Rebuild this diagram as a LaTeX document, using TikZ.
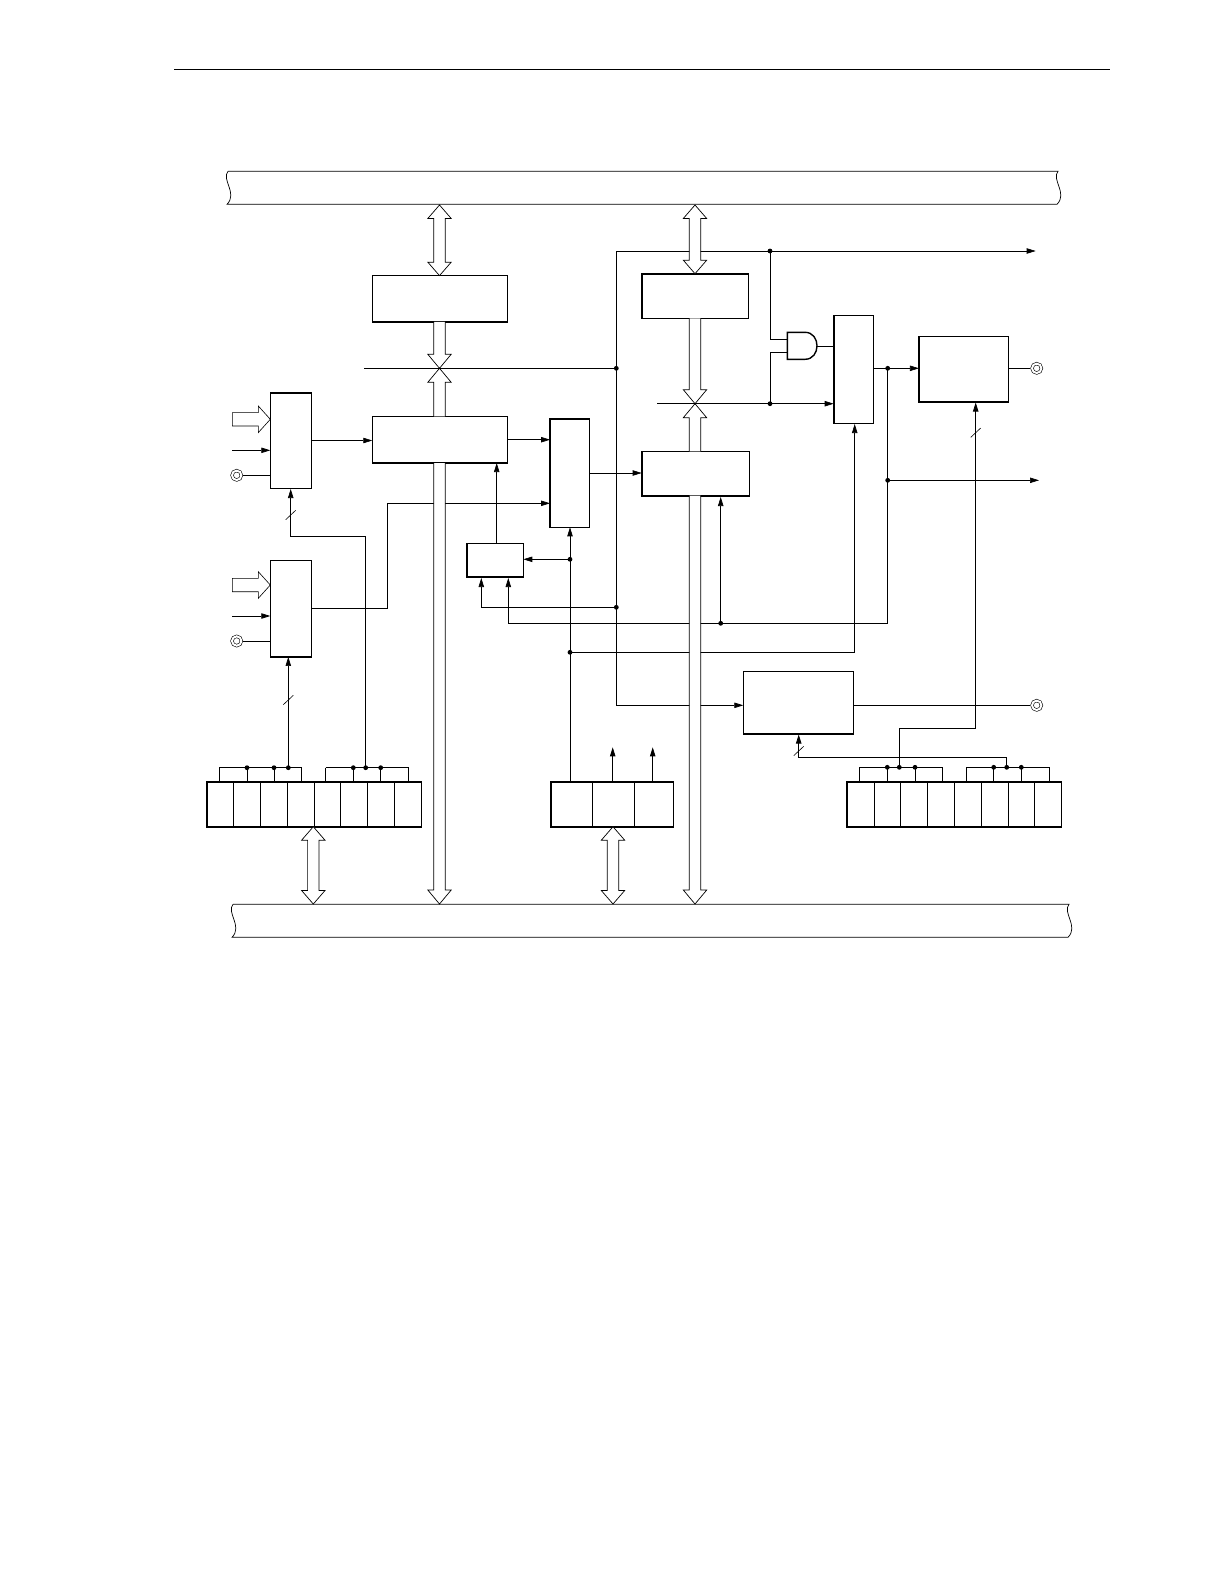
\documentclass[tikz,border=0pt]{standalone}
\usetikzlibrary{arrows.meta,calc}
\tikzset{
  blk/.style 2 args={draw,line width=.8pt,inner sep=0pt,outer sep=0pt,minimum width=#1*.5pt,minimum height=#2*.5pt},
  sig/.style={-{Triangle[length=4.5pt,width=2.7pt]}},
  bus/.style={fill=white,line width=.35pt},
  term/.style={circle,draw,line width=.3pt,double,double distance=1pt,inner sep=0pt,outer sep=.8pt,minimum size=4.7pt}
}
% both ends of a wide transfer arrow
\newcommand{\dblarrow}[2]{\path[bus,draw] (#1) -- ++(11.7,13.5) -- ++(-6,0) -- ($(#2)+(5.7,-13.5)$) -- ++(6,0) -- (#2) -- ++(-11.7,-13.5) -- ++(6,0) -- ($(#1)+(-5.7,13.5)$) -- ++(-6,0) -- cycle;}
% open shaft from #1 with a head on #2, #3 = head length
\newcommand{\shaft}[3]{\path[bus,fill=white] ($(#1)+(-5.7,0)$) -- ($(#2)+(-5.7,#3)$) -- ++(-6,0) -- (#2) -- ++(11.7,#3) -- ++(-6,0) -- ($(#1)+(5.7,0)$) -- cycle;
  \draw[line width=.35pt] ($(#1)+(-5.7,0)$) -- ($(#2)+(-5.7,#3)$) -- ++(-6,0) -- (#2) -- ++(11.7,#3) -- ++(-6,0) -- ($(#1)+(5.7,0)$);}
% bus bar, left end at #1, #2 long
\newcommand{\busbar}[2]{\draw[line width=.35pt,shift={(#1)}] (1,0) -- (#2+1,0) .. controls (#2-6,8) and (#2+11,22) .. (#2,33) -- (0,33) .. controls (11,22) and (-6,8) .. (1,0);}
% hollow input arrow ending on #1
\newcommand{\hollow}[1]{\draw[line width=.3pt] (#1) -- ++(-12,13.3) -- ++(0,-6.6) -- ++(-26,0) -- ++(0,-13.4) -- ++(26,0) -- ++(0,-6.6) -- cycle;}
\begin{document}
\begin{tikzpicture}[x=.5pt,y=-.5pt,line width=.35pt]
\useasboundingbox (0,0) rectangle (1224,1584);
\draw (174,69)--(1110,69);
\busbar{227,171.3}{830}
\busbar{232,904.3}{836}
% blocks
\node[blk={135}{46.3}] (blkA) at (439.8,298.8) {};
\node[blk={135}{46.7}] (blkB) at (439.8,439.7) {};
\node[blk={106.6}{44.6}] (blkC) at (695,296) {};
\node[blk={107.6}{44.4}] (blkD) at (695.5,473.5) {};
\node[blk={41}{95.6}] (muxA) at (290.8,440.5) {};
\node[blk={41}{96.3}] (muxB) at (290.8,608.8) {};
\node[blk={39.3}{108.6}] (muxC) at (569.7,473) {};
\node[blk={56.6}{33.3}] (ctlS) at (495,560.3) {};
\node[blk={39.6}{108}] (muxD) at (853.5,369.3) {};
\node[blk={89.7}{65.3}] (outT) at (963.8,369.3) {};
\node[blk={110}{62.3}] (outP) at (798.3,702.8) {};
\node[blk={214.6}{45}] (regA) at (314,804.2) {};
\node[blk={122.6}{45}] (regB) at (612,804.2) {};
\node[blk={214.3}{45}] (regC) at (954.2,804.5) {};
% pins
\node[term] (pinA) at (236.7,475.3) {};
\node[term] (pinB) at (236.7,641) {};
\node[term] (pinC) at (1036.7,368.3) {};
\node[term] (pinD) at (1036.7,705.3) {};
% branch points
\coordinate (swA) at (439.5,368.3);
\coordinate (swC) at (695,403.7);
\coordinate (jLeft) at (616.3,368.3);
\coordinate (jCorner) at (616.3,251);
\coordinate (jBelow) at (616.3,607.3);
\coordinate (jGate) at (770,251);
\coordinate (jSw) at (770,403.7);
\coordinate (jOut) at (887.7,368.3);
\coordinate (jTap) at (887.7,480.3);
\coordinate (jFb) at (887.7,623.3);
\coordinate (jFbD) at (720.7,623.3);
\coordinate (jSel) at (570,559.3);
\coordinate (jSelB) at (570,652.3);
\coordinate (jPwm) at (616.3,705.3);
\coordinate (brA) at (288.3,767.7);
\coordinate (brB) at (365.7,767.7);
\coordinate (brC) at (899.3,767.3);
\coordinate (brD) at (1006.7,767.3);
% gate
\draw[line width=.7pt] (787.3,332.3) -- (805,332.3) .. controls (821,332.3) and (821,359.3) .. (805,359.3) -- (787.3,359.3) -- cycle;
\coordinate (gateA) at (787.3,339.7);
\coordinate (gateB) at (787.3,352.3);
\coordinate (gateO) at (817,346);
% wires
\draw[sig] (jCorner) -- (1035.7,251);
\draw[sig] (jCorner) -- (jPwm) -- (jPwm -| outP.west);
\draw (jGate) |- (gateA);
\draw (jSw) |- (gateB);
\draw (gateO) -- (gateO -| muxD.west);
\draw[sig] (muxD.east |- jOut) -- (jOut -| outT.west);
\draw (outT.east |- pinC) -- (pinC);
\draw (pinD) -- (pinD -| outP.east);
\draw[sig] (jTap) -- (1039,480.3);
\draw (jOut) -- (jFb);
\draw[sig] (jFb) -- (508.3,623.3) -- (508.3,578);
\draw[sig] (jFbD) -- (720.7,497);
\draw[sig] (jBelow) -- (481.3,607.3) -- (481.3,578);
\draw[sig] (jSel) -- (jSel -| ctlS.east);
\draw[sig] (regB.north -| jSel) -- (muxC.south -| jSel);
\draw[sig] (jSelB) -- (854.7,652.3) -- (854.7,424);
\draw[sig] (ctlS.north -| 496.7,0) -- (blkB.south -| 496.7,0);
\draw[sig] (muxA.east) -- (muxA.east -| blkB.west);
\draw[sig] (blkB.east) -- (blkB.east -| muxC.west);
\draw[sig] (muxC.east) -- (muxC.east -| blkD.west);
\draw[sig] (muxB.east) -- (387.3,608.8) -- (387.3,503.3) -- (muxC.west |- 0,503.3);
\draw[sig] (brB) -- (365.7,536) -- (290.7,536) -- (290.7,489);
\draw[sig] (brA) -- (muxB.south -| brA);
\draw[sig] (brC) -- (899.3,728.3) -- (975.7,728.3) -- (975.7,402.5);
\draw[sig] (brD) -- (1006.7,757.3) -- (798.7,757.3) -- (798.7,734.5);
\draw[sig] (regB.north -| 612.7,0) -- (612.7,747.3);
\draw[sig] (regB.north -| 652.7,0) -- (652.7,747.3);
% inputs of the two left selectors
\draw (pinA) -- (pinA -| muxA.west);
\draw (pinB) -- (pinB -| muxB.west);
\draw[sig] (232,450.3) -- (muxA.west |- 0,450.3);
\draw[sig] (232,616) -- (muxB.west |- 0,616);
\hollow{muxA.west |- 0,419.3}
\hollow{muxB.west |- 0,585}
% register cells
\foreach \x in {233.3,260.3,287.3,314.3,340.7,367.3,394.3} \draw[line width=.5pt] (regA.north -| \x,0) -- (regA.south -| \x,0);
\foreach \x in {592.7,634.7} \draw[line width=.5pt] (regB.north -| \x,0) -- (regB.south -| \x,0);
\foreach \x in {874.3,900.3,927.3,954.3,981.3,1008.3,1034.7} \draw[line width=.5pt] (regC.north -| \x,0) -- (regC.south -| \x,0);
% brackets over the registers
\draw (219.3,767.7) -- (301.7,767.7) (325.7,767.7) -- (408.7,767.7);
\draw (859.3,767.3) -- (942.3,767.3) (966.7,767.3) -- (1049.3,767.3);
\foreach \x in {219.3,247,274,301.7,325.7,353.3,380.7,408.7} \draw (\x,767.7) -- (regA.north -| \x,0);
\foreach \x in {859.3,887.3,915,942.3,966.7,993.7,1021.3,1049.3} \draw (\x,767.3) -- (regC.north -| \x,0);
% slashes
\foreach \p in {(290.7,515),(288.3,700),(975.7,432.7),(798.7,751)}
  \draw[line width=.3pt] \p ++(-5,4.7) -- ++(10,-9.4);
% transfer arrows
\coordinate (busTopA) at (439.5,205);
\coordinate (busTopC) at (695,205);
\coordinate (busLowA) at (439.5,904);
\coordinate (busLowC) at (695,904);
\coordinate (busLowR) at (313.3,904);
\coordinate (busLowB) at (613,904);
\dblarrow{busTopA}{blkA.north -| busTopA}
\dblarrow{busTopC}{blkC.north -| busTopC}
\dblarrow{regA.south -| busLowR}{busLowR}
\dblarrow{regB.south -| busLowB}{busLowB}
\shaft{blkA.south -| swA}{swA}{-14}
\shaft{blkB.north -| swA}{swA}{14}
\shaft{blkB.south -| busLowA}{busLowA}{-14}
\shaft{blkC.south -| swC}{swC}{-14}
\shaft{blkD.north -| swC}{swC}{14}
\shaft{blkD.south -| busLowC}{busLowC}{-14}
% control lines across the switches
\draw (364.3,368.3) -- (jLeft);
\draw[sig] (657.3,403.7) -- (jSw -| muxD.west);
% dots
\foreach \p in {jLeft,jGate,jSw,jOut,jTap,jFbD,jSel,jSelB,jBelow,brA,brB,brC,brD}
  \fill (\p) circle (2.4);
\foreach \p in {(247,767.7),(274,767.7),(353.3,767.7),(380.7,767.7),(887.3,767.3),(915,767.3),(993.7,767.3),(1021.3,767.3)}
  \fill \p circle (2.4);
\end{tikzpicture}
\end{document}
